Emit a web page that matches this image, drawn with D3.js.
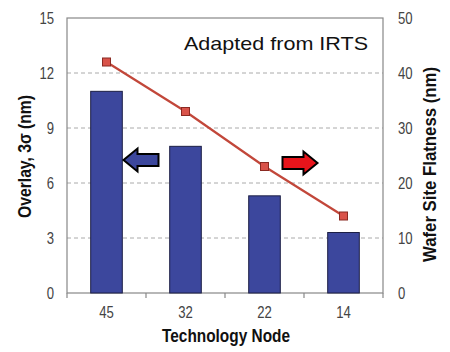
<!DOCTYPE html>
<html lang="en">
<head>
  <meta charset="UTF-8">
  <title>Overlay vs Flatness</title>
  <script src="https://d3js.org/d3.v7.min.js"></script>
  <style>
    body { margin: 0; background: #fff; }
    text { font-family: Arial, "Liberation Sans", sans-serif; }
  </style>
</head>
<body>
  <div id="chart"></div>
  <script>
    // data
    const nodes = ["45", "32", "22", "14"];
    const overlay = [11, 8, 5.3, 3.3];       // left axis, nm
    const flatness = [42, 33, 23, 14];       // right axis, nm
    const leftTicks = [0, 3, 6, 9, 12, 15];
    const rightTicks = [0, 10, 20, 30, 40, 50];

    const W = 450, H = 352;
    const margin = { top: 18, right: 67, bottom: 59, left: 67 };
    const width = W - margin.left - margin.right,
      height = H - margin.top - margin.bottom;

    const svg = d3.select("#chart").append("svg")
      .attr("width", W).attr("height", H);
    const g = svg.append("g")
      .attr("transform", `translate(${margin.left},${margin.top})`);

    const x = d3.scaleBand().domain(nodes).range([0, width]).paddingInner(0.6).paddingOuter(0.3);
    const xb = d3.scaleBand().domain(nodes).range([0, width]);
    const yL = d3.scaleLinear().domain([0, 15]).range([height, 0]);
    const yR = d3.scaleLinear().domain([0, 50]).range([height, 0]);

    // dashed grid
    g.selectAll(".grid").data(leftTicks.filter(d => d > 0 && d < 15)).join("line")
      .attr("x1", 0).attr("x2", width)
      .attr("y1", d => yL(d)).attr("y2", d => yL(d))
      .attr("stroke", "#aaa").attr("stroke-dasharray", "4,3");

    // plot frame
    g.append("rect").attr("width", width).attr("height", height)
      .attr("fill", "none").attr("stroke", "#888").attr("stroke-width", 1.2);

    // bars
    g.selectAll(".bar").data(overlay).join("rect")
      .attr("x", (d, i) => x(nodes[i]))
      .attr("width", x.bandwidth())
      .attr("y", d => yL(d))
      .attr("height", d => height - yL(d))
      .attr("fill", "#3c479d").attr("stroke", "#1c1f45").attr("stroke-width", 1);

    // left axis
    const axL = g.append("g").call(d3.axisLeft(yL).tickValues(leftTicks).tickSize(0).tickPadding(13));
    axL.select(".domain").remove();
    axL.selectAll("text").attr("font-size", 16).attr("fill", "#444")
      .attr("textLength", d => String(d).length * 7.3).attr("lengthAdjust", "spacingAndGlyphs");

    // right axis
    const axR = g.append("g").attr("transform", `translate(${width},0)`)
      .call(d3.axisRight(yR).tickValues(rightTicks).tickSize(0).tickPadding(15));
    axR.select(".domain").remove();
    axR.selectAll("text").attr("font-size", 16).attr("fill", "#444")
      .attr("textLength", d => String(d).length * 7.3).attr("lengthAdjust", "spacingAndGlyphs");

    // bottom axis: ticks at category boundaries
    const bounds = nodes.map(n => xb(n)).concat([width]);
    g.selectAll(".xtick").data(bounds).join("line")
      .attr("x1", d => d).attr("x2", d => d)
      .attr("y1", height).attr("y2", height + 5)
      .attr("stroke", "#888").attr("stroke-width", 1.2);
    g.selectAll(".xlab").data(nodes).join("text")
      .attr("x", d => xb(d) + xb.bandwidth() / 2)
      .attr("y", height + 25)
      .attr("text-anchor", "middle").attr("font-size", 16).attr("fill", "#444")
      .attr("textLength", 14.6).attr("lengthAdjust", "spacingAndGlyphs")
      .text(d => d);

    // line on right axis
    g.append("path").datum(flatness)
      .attr("fill", "none").attr("stroke", "#c2473a").attr("stroke-width", 2.2)
      .attr("d", d3.line().x((d, i) => xb(nodes[i]) + xb.bandwidth() / 2).y(d => yR(d)));
    g.selectAll(".mk").data(flatness).join("rect")
      .attr("x", (d, i) => xb(nodes[i]) + xb.bandwidth() / 2 - 4)
      .attr("y", d => yR(d) - 4)
      .attr("width", 8).attr("height", 8)
      .attr("fill", "#d9534a").attr("stroke", "#8a2a22").attr("stroke-width", 1);

    // arrows
    function arrow(cx, cy, dir, fill) {
      const L = 35, hw = 11.5, sh = 6, hl = 14;
      const pts = [[-L / 2, 0], [-L / 2 + hl, -hw], [-L / 2 + hl, -sh], [L / 2, -sh], [L / 2, sh], [-L / 2 + hl, sh], [-L / 2 + hl, hw]];
      g.append("path")
        .attr("d", d3.line()(pts) + "Z")
        .attr("transform", `translate(${cx},${cy}) scale(${dir},1)`)
        .attr("fill", fill).attr("stroke", "#000").attr("stroke-width", 2).attr("stroke-linejoin", "miter");
    }
    arrow(141 - margin.left, 160 - margin.top, 1, "#3c479d");
    arrow(300 - margin.left, 163 - margin.top, -1, "#e8141b");

    // annotation
    svg.append("text").attr("x", 184).attr("y", 50)
      .attr("font-size", 19).attr("fill", "#111")
      .attr("textLength", 184).attr("lengthAdjust", "spacingAndGlyphs")
      .text("Adapted from IRTS");

    // axis titles
    svg.append("text").attr("x", 162).attr("y", 342)
      .attr("font-size", 18).attr("font-weight", "bold").attr("fill", "#111")
      .attr("textLength", 128).attr("lengthAdjust", "spacingAndGlyphs")
      .text("Technology Node");
    svg.append("text").attr("transform", "translate(31,218) rotate(-90)")
      .attr("font-size", 18).attr("font-weight", "bold").attr("fill", "#111")
      .attr("textLength", 123).attr("lengthAdjust", "spacingAndGlyphs")
      .text("Overlay, 3σ (nm)");
    svg.append("text").attr("transform", "translate(436,262) rotate(-90)")
      .attr("font-size", 18).attr("font-weight", "bold").attr("fill", "#111")
      .attr("textLength", 195).attr("lengthAdjust", "spacingAndGlyphs")
      .text("Wafer Site Flatness (nm)");
  </script>
</body>
</html>
